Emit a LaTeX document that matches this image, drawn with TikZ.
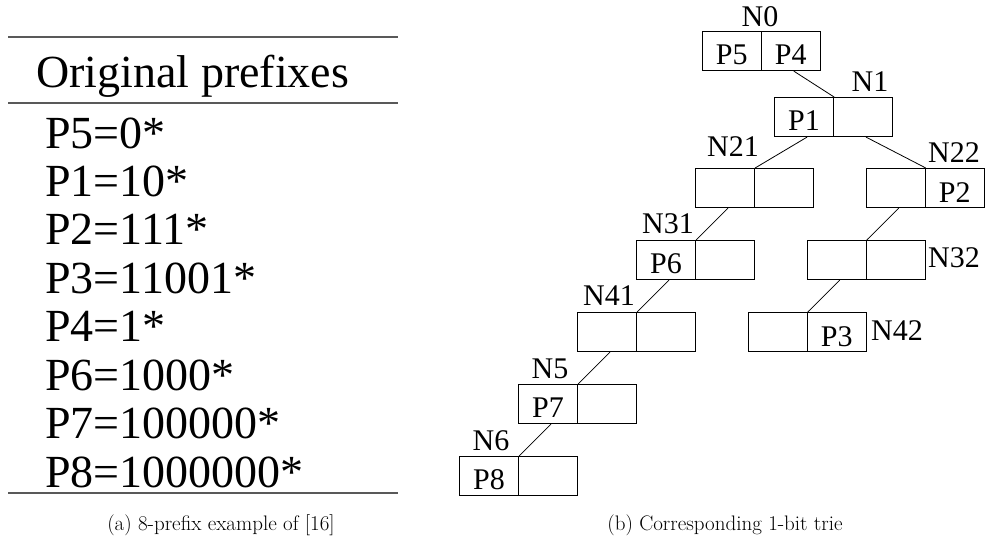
\documentclass[tikz,border=0pt]{standalone}
\usepackage{fontspec}
\newfontfamily\tms{Liberation Serif}
\usetikzlibrary{calc}
\begin{document}
\begin{tikzpicture}[x=1pt,y=-1pt,
  cell/.style={draw, line width=1.1pt, minimum width=59pt, minimum height=39pt, inner sep=0pt, anchor=north west},
  ptext/.style={font=\tms\fontsize{30}{30}\selectfont, anchor=base, inner sep=0pt},
  nlab/.style={font=\tms\fontsize{30}{30}\selectfont, anchor=base, inner sep=0pt},
  edge/.style={line width=0.8pt},
  tabrule/.style={line width=1.4pt, draw=black!65},
  row/.style={font=\tms\fontsize{46}{46}\selectfont, anchor=base west, inner sep=0pt},
  captext/.style={font=\fontsize{21}{21}\selectfont, anchor=base, inner sep=0pt}]
\useasboundingbox (0,0) rectangle (989,550);

% ---- table ----
\coordinate (r1a) at (8,37);  \coordinate (r1b) at (398,37);
\coordinate (r2a) at (8,103); \coordinate (r2b) at (398,103);
\coordinate (r3a) at (8,493); \coordinate (r3b) at (398,493);
\draw[tabrule] (r1a) -- (r1b);
\draw[tabrule] (r2a) -- (r2b);
\draw[tabrule] (r3a) -- (r3b);
\node[row] (hdr) at (36,87) {Original prefixes};
\node[row] (rowA) at (45,148.0) {P5=0*};
\node[row] (rowB) at (45,196.4) {P1=10*};
\node[row] (rowC) at (45,244.9) {P2=111*};
\node[row] (rowD) at (45,293.3) {P3=11001*};
\node[row] (rowE) at (45,341.7) {P4=1*};
\node[row] (rowF) at (45,390.1) {P6=1000*};
\node[row] (rowG) at (45,438.6) {P7=100000*};
\node[row] (rowH) at (45,487.0) {P8=1000000*};

% ---- trie cells ----
\node[cell] (N0a)  at (701.7,31) {};  \node[cell] (N0b)  at (760.7,31) {};
\node[cell] (N1a)  at (774,97) {};    \node[cell] (N1b)  at (833,97) {};
\node[cell] (N21a) at (695,168) {};   \node[cell] (N21b) at (754,168) {};
\node[cell] (N22a) at (865.7,168) {}; \node[cell] (N22b) at (924.7,168) {};
\node[cell] (N31a) at (636,240) {};   \node[cell] (N31b) at (695,240) {};
\node[cell] (N32a) at (806.7,240) {}; \node[cell] (N32b) at (865.7,240) {};
\node[cell] (N41a) at (577,312) {};   \node[cell] (N41b) at (636,312) {};
\node[cell] (N42a) at (747.7,312) {}; \node[cell] (N42b) at (806.7,312) {};
\node[cell] (N5a)  at (518,384) {};   \node[cell] (N5b)  at (577,384) {};
\node[cell] (N6a)  at (459,456) {};   \node[cell] (N6b)  at (518,456) {};

% ---- prefixes in cells ----
\node[ptext] (tP5) at ($(N0a.south)+(0,-6.5)$) {P5};
\node[ptext] (tP4) at ($(N0b.south)+(0,-6.5)$) {P4};
\node[ptext] (tP1) at ($(N1a.south)+(0,-6.5)$) {P1};
\node[ptext] (tP2) at ($(N22b.south)+(0,-5.5)$) {P2};
\node[ptext] (tP6) at ($(N31a.south)+(0,-6.5)$) {P6};
\node[ptext] (tP3) at ($(N42b.south)+(0,-6)$) {P3};
\node[ptext] (tP7) at ($(N5a.south)+(0,-6.5)$) {P7};
\node[ptext] (tP8) at ($(N6a.south)+(0,-6.5)$) {P8};

% ---- node labels ----
\node[nlab] (lN0)  at (760,26) {N0};
\node[nlab] (lN1)  at (870,91) {N1};
\node[nlab] (lN21) at (733,156) {N21};
\node[nlab] (lN22) at (954,162) {N22};
\node[nlab] (lN31) at (668,233) {N31};
\node[nlab] (lN32) at (954,267) {N32};
\node[nlab] (lN41) at (609,305) {N41};
\node[nlab] (lN42) at (897,340) {N42};
\node[nlab] (lN5)  at (550,378) {N5};
\node[nlab] (lN6)  at (491,450) {N6};

% ---- connectors ----
\draw[edge] ([xshift=3pt]N0b.south)  -- (N1a.north east);
\draw[edge] ([xshift=3pt]N1a.south)  -- (N21a.north east);
\draw[edge] ([xshift=3pt]N1b.south)  -- (N22a.north east);
\draw[edge] ([xshift=3pt]N21a.south) -- (N31a.north east);
\draw[edge] ([xshift=3pt]N22a.south) -- (N32a.north east);
\draw[edge] ([xshift=3pt]N31a.south) -- (N41a.north east);
\draw[edge] ([xshift=3pt]N32a.south) -- (N42a.north east);
\draw[edge] ([xshift=3pt]N41a.south) -- (N5a.north east);
\draw[edge] ([xshift=3pt]N5a.south)  -- (N6a.north east);

% ---- captions ----
\node[captext] (capA) at (221,530) {(a) 8-prefix example of [16]};
\node[captext] (capB) at (725,530) {(b) Corresponding 1-bit trie};
\end{tikzpicture}
\end{document}
